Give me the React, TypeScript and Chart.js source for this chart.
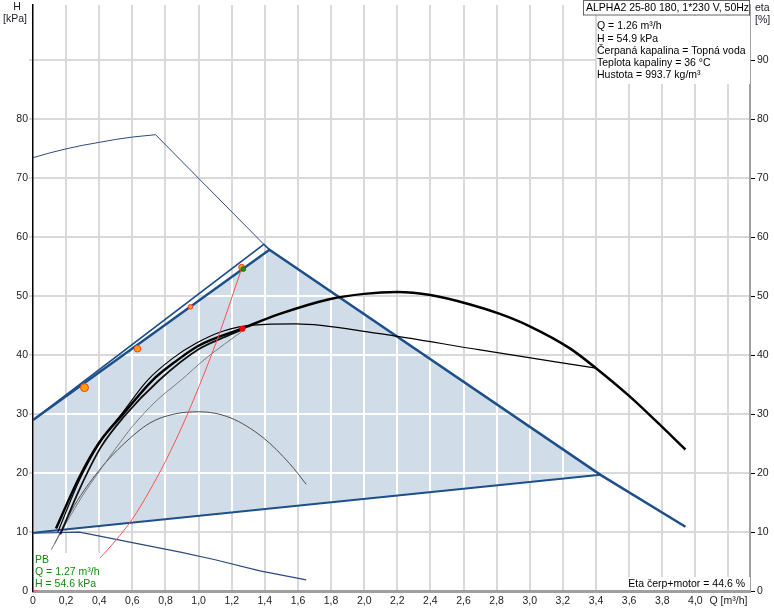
import { useEffect, useRef } from "react";
import { Chart, registerables } from "chart.js";
Chart.register(...registerables);

// ---- axes ----
const Q_MAX = 4.33;
const H_MAX = 99.4;
const Q_STEP = 0.2;
const H_STEP = 10;
const Q_UNIT_LABEL = "Q [m³/h]";
const Q_UNIT_AT = 4.2;

// ---- shaded operating area (polygon) ----
const areaQ = [0, 1.428, 3.427, 0];
const areaH = [29.0, 57.9, 19.7, 9.9];

// ---- blue edges ----
const edgeTopQ = [0, 1.428, 3.427, 3.94];
const edgeTopH = [29.0, 57.9, 19.7, 10.9];
const edgeBottomQ = [0, 3.427];
const edgeBottomH = [9.9, 19.7];
const outerEdgeQ = [0, 1.394, 1.428];
const outerEdgeH = [29.0, 58.8, 57.9];
const maxCurveQ = [0, 0.1, 0.2, 0.3, 0.4, 0.5, 0.6, 0.74, 1.394];
const maxCurveH = [73.5, 74.3, 75.0, 75.6, 76.1, 76.6, 77.0, 77.4, 58.8];
const powerQ = [0, 0.28, 0.35, 0.6, 0.89, 1.1, 1.37, 1.65];
const powerH = [9.8, 10.0, 9.6, 8.2, 6.6, 5.3, 3.4, 1.9];

// ---- black / gray pump curves ----
const curveAQ = [0.139, 0.28, 0.4, 0.55, 0.72, 0.85, 1.0, 1.26, 1.49, 1.79, 2.0, 2.2, 2.4, 2.64, 2.82, 3.0, 3.24, 3.4, 3.6, 3.76, 3.94];
const curveAH = [10.6, 19.3, 25.2, 30.2, 35.7, 38.7, 41.6, 44.5, 47.0, 49.5, 50.4, 50.7, 50.2, 48.6, 47.0, 44.9, 41.2, 37.8, 33.1, 28.9, 24.0];
const curveBQ = [0.15, 0.28, 0.4, 0.55, 0.69, 0.845, 0.99, 1.15, 1.33, 1.59, 2.07, 2.7, 3.4];
const curveBH = [10.0, 18.8, 25.0, 30.6, 35.7, 39.5, 42.1, 44.1, 45.1, 45.3, 43.75, 40.9, 37.8];
const curveCQ = [0.165, 0.28, 0.41, 0.55, 0.76, 1.0, 1.15, 1.26];
const curveCH = [9.6, 17.2, 24.4, 29.6, 35.7, 41.0, 43.0, 44.3];
const curveDQ = [0.11, 0.2, 0.3, 0.4, 0.5, 0.6, 0.75, 0.887, 1.05, 1.26];
const curveDH = [7.0, 11.5, 16.2, 20.3, 24.2, 27.9, 32.4, 35.6, 39.6, 44.0];
const curveEQ = [0.13, 0.25, 0.4, 0.55, 0.706, 0.85, 1.0, 1.19, 1.39, 1.55, 1.65];
const curveEH = [8.0, 14.5, 20.5, 25.0, 28.5, 30.0, 30.4, 29.4, 26.0, 21.6, 18.1];

// ---- system curve (red) ----
const systemQ = [0, 0.2, 0.3, 0.4, 0.5, 0.6, 0.7, 0.8, 0.93, 1.08, 1.13, 1.26];
const systemH = [0, 1.4, 3.1, 5.5, 8.6, 12.2, 16.8, 22.0, 29.8, 40.2, 44.0, 54.7];

// ---- points ----
const orangeQ = [0.311, 0.631, 0.951, 1.26];
const orangeH = [34.5, 41.1, 48.2, 54.9];
const orangeR = [4, 3.3, 2.3, 3];
const pbQ = [1.27];
const pbH = [54.6];
const dutyQ = [1.265];
const dutyH = [44.5];

// ---- texts ----
const leftTitle = ["H", "[kPa]"];
const rightTitle = ["eta", "[%]"];
const infoTitle = "ALPHA2 25-80 180, 1*230 V, 50Hz";
const infoLines = [
  "Q = 1.26 m³/h",
  "H = 54.9 kPa",
  "Čerpaná kapalina = Topná voda",
  "Teplota kapaliny = 36 °C",
  "Hustota = 993.7 kg/m³",
];
const etaText = "Eta čerp+motor = 44.6 %";
const pbLines = ["PB", "Q = 1.27 m³/h", "H = 54.6 kPa"];

const FONT = "'Liberation Sans', Arial, sans-serif";
const FS = 10.5;

const pts = (q: number[], h: number[]) => q.map((v, i) => ({ x: v, y: h[i] }));

const fmtQ = (v: number) => {
  const r = Math.round(v * 10) / 10;
  if (Math.abs(r - Q_UNIT_AT) < 1e-6) return Q_UNIT_LABEL;
  if (r === 0) return "0";
  return r.toFixed(1).replace(".", ",");
};

const overlay = {
  id: "overlay",
  beforeDatasetsDraw(chart: any) {
    const { ctx, chartArea: ca } = chart;
    const x = chart.scales.x;
    const y = chart.scales.y;
    ctx.save();
    ctx.beginPath();
    ctx.rect(ca.left + 1, ca.top, ca.right - ca.left - 1, ca.bottom - ca.top - 1);
    ctx.clip();
    ctx.beginPath();
    areaQ.forEach((q, i) => {
      const px = x.getPixelForValue(q);
      const py = y.getPixelForValue(areaH[i]);
      if (i === 0) ctx.moveTo(px, py);
      else ctx.lineTo(px, py);
    });
    ctx.closePath();
    ctx.fillStyle = "#d0dce8";
    ctx.fill();
    ctx.clip();
    ctx.strokeStyle = "#ffffff";
    ctx.lineWidth = 2;
    x.ticks.forEach((t: any) => {
      if (t.value === 0) return;
      const px = Math.round(x.getPixelForValue(t.value));
      ctx.beginPath();
      ctx.moveTo(px, ca.top);
      ctx.lineTo(px, ca.bottom);
      ctx.stroke();
    });
    y.ticks.forEach((t: any) => {
      if (t.value === 0) return;
      const py = Math.round(y.getPixelForValue(t.value));
      ctx.beginPath();
      ctx.moveTo(ca.left, py);
      ctx.lineTo(ca.right, py);
      ctx.stroke();
    });
    ctx.restore();
  },
  afterDraw(chart: any) {
    const { ctx } = chart;
    ctx.save();
    ctx.font = `${FS}px ${FONT}`;
    ctx.textBaseline = "middle";
    // axis titles
    ctx.fillStyle = "#1a1a2a";
    ctx.textAlign = "center";
    ctx.fillText(leftTitle[0], 17, 7);
    ctx.fillText(leftTitle[1], 15, 19.5);
    ctx.textAlign = "left";
    ctx.fillText(rightTitle[0], 755, 8);
    ctx.fillText(rightTitle[1], 755, 20);
    // info box
    ctx.fillStyle = "#ffffff";
    ctx.fillRect(583, 0, 167, 15);
    ctx.strokeStyle = "#666";
    ctx.lineWidth = 1;
    ctx.strokeRect(583.5, 0.5, 166, 14.5);
    ctx.fillStyle = "#000";
    ctx.fillText(infoTitle, 586, 8);
    ctx.fillStyle = "#ffffff";
    ctx.fillRect(597, 16, 153, 68);
    ctx.fillStyle = "#000";
    const ys = [26.5, 39, 51, 63.3, 75.5];
    infoLines.forEach((s, i) => ctx.fillText(s, 597, ys[i]));
    // eta
    ctx.fillStyle = "#ffffff";
    ctx.fillRect(627, 577, 123, 13);
    ctx.fillStyle = "#000";
    ctx.textAlign = "right";
    ctx.fillText(etaText, 745, 584);
    // PB
    ctx.fillStyle = "#ffffff";
    ctx.fillRect(34, 553, 66, 37);
    ctx.fillStyle = "#108a10";
    ctx.textAlign = "left";
    const py = [560, 572, 584];
    pbLines.forEach((s, i) => ctx.fillText(s, 35, py[i]));
    ctx.restore();
  },
};

const line = (data: any, color: string, width: number, smooth = false, extra: any = {}) => ({
  data,
  showLine: true,
  borderColor: color,
  borderWidth: width,
  pointRadius: 0,
  fill: false,
  tension: 0,
  cubicInterpolationMode: smooth ? "monotone" : "default",
  ...extra,
});

export default function App() {
  const ref = useRef<HTMLCanvasElement | null>(null);
  useEffect(() => {
    if (!ref.current) return;
    const transparent = "rgba(0,0,0,0)";
    const chart = new Chart(ref.current, {
      type: "scatter",
      data: {
        datasets: [
          {
            data: pts(pbQ, pbH),
            pointRadius: 2.5,
            backgroundColor: "#1a8a1a",
            borderColor: "#0a5a0a",
            borderWidth: 0.5,
          },
          {
            data: pts(orangeQ, orangeH),
            pointRadius: orangeR,
            backgroundColor: "#ffa200",
            borderColor: "#ff3a2a",
            borderWidth: 1,
          },
          {
            data: pts(dutyQ, dutyH),
            pointRadius: 3,
            backgroundColor: "#ff0000",
            borderColor: "#ff0000",
            borderWidth: 0,
          },
          line(pts(systemQ, systemH), "#ff5050", 1, true),
          line(pts(curveAQ, curveAH), "#000000", 2.5, true),
          line(pts(curveCQ, curveCH), "#111111", 1.8, true),
          line(pts(curveBQ, curveBH), "#000000", 1.2, true),
          line(pts(curveDQ, curveDH), "#7a7a7a", 1, true),
          line(pts(curveEQ, curveEH), "#505050", 1, true),
          line(pts(edgeTopQ, edgeTopH), "#1d4f8a", 2.5),
          line(pts(edgeBottomQ, edgeBottomH), "#1d4f8a", 2),
          line(pts(outerEdgeQ, outerEdgeH), "#1d4f8a", 1.5),
          line(pts(maxCurveQ, maxCurveH), "#2c4a7e", 1),
          line(pts(powerQ, powerH), "#2c4a7e", 1.2),
        ],
      },
      options: {
        responsive: false,
        animation: false,
        devicePixelRatio: 1,
        layout: { padding: 0 },
        font: { family: FONT, size: FS },
        plugins: { legend: { display: false }, tooltip: { enabled: false } },
        scales: {
          x: {
            type: "linear",
            position: "bottom",
            min: 0,
            max: Q_MAX,
            afterFit: (s: any) => {
              s.height = 20;
              s.paddingLeft = 0;
              s.paddingRight = 0;
            },
            grid: {
              color: (c: any) => (c.tick && c.tick.value === 0 ? transparent : "#d9d9d9"),
              lineWidth: 2,
              drawTicks: false,
            },
            border: { color: "#a0a0a0", width: 3 },
            ticks: {
              stepSize: Q_STEP,
              includeBounds: false,
              autoSkip: false,
              maxRotation: 0,
              padding: 4,
              color: "#222",
              font: { family: FONT, size: FS },
              callback: (v: any) => fmtQ(Number(v)),
            },
          },
          y: {
            type: "linear",
            position: "left",
            min: 0,
            max: H_MAX,
            afterFit: (s: any) => {
              s.width = 33;
              s.paddingTop = 0;
              s.paddingBottom = 0;
            },
            grid: {
              color: (c: any) => (c.tick && c.tick.value === 0 ? transparent : "#d9d9d9"),
              lineWidth: 2,
              drawTicks: true,
              tickLength: 4,
            },
            border: { color: "#000", width: 1.5 },
            ticks: {
              stepSize: H_STEP,
              includeBounds: false,
              autoSkip: false,
              padding: 1,
              color: "#222",
              font: { family: FONT, size: FS },
              callback: (v: any) => (Number(v) >= 90 ? "" : String(v)),
            },
          },
          y2: {
            type: "linear",
            position: "right",
            min: 0,
            max: H_MAX,
            afterFit: (s: any) => {
              s.width = 24;
              s.paddingTop = 0;
              s.paddingBottom = 0;
            },
            grid: {
              drawOnChartArea: false,
              drawTicks: true,
              tickLength: 5,
              tickWidth: 1,
              tickColor: "#000",
            },
            border: { color: "#a0a0a0", width: 2 },
            ticks: {
              stepSize: H_STEP,
              includeBounds: false,
              autoSkip: false,
              padding: 2,
              color: "#222",
              font: { family: FONT, size: FS },
              callback: (v: any) => String(v),
            },
          },
        },
      } as any,
      plugins: [overlay],
    });
    return () => chart.destroy();
  }, []);
  return (
    <div style={{ position: "absolute", left: 0, top: 0, width: 774, height: 611, background: "#fff" }}>
      <canvas ref={ref} width={774} height={611} style={{ width: 774, height: 611, display: "block" }} />
    </div>
  );
}
